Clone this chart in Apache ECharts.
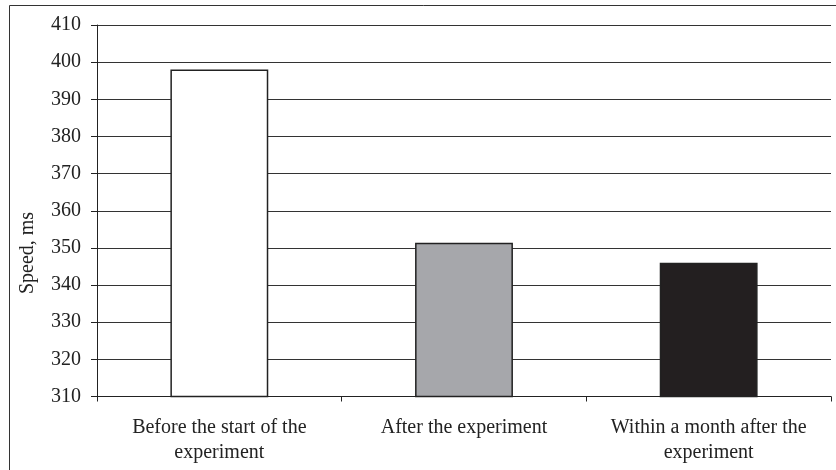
<!DOCTYPE html>
<html>
<head>
<meta charset="utf-8">
<script src="https://cdn.jsdelivr.net/npm/echarts@6/dist/echarts.min.js"></script>
<style>
html,body{margin:0;padding:0;background:#fff;}
#chart{width:836px;height:470px;}
</style>
</head>
<body>
<div id="chart"></div>
<script>
var categories = ["Before the start of the\nexperiment", "After the experiment", "Within a month after the\nexperiment"];
var speedValues = [398, 351.4, 346];
var barColors = ["#ffffff", "#a6a7ab", "#231f20"];
var yAxisName = "Speed, ms";

var chart = echarts.init(document.getElementById('chart'), null, {renderer: 'canvas'});
var font = '"Liberation Serif", "Times New Roman", serif';

chart.setOption({
  animation: false,
  backgroundColor: '#ffffff',
  grid: {left: 97, right: 5, top: 25, bottom: 73.5, containLabel: false},
  xAxis: {
    type: 'category',
    data: categories,
    boundaryGap: true,
    axisLine: {show: true, lineStyle: {color: '#222', width: 1}},
    axisTick: {show: true, length: 5, inside: false, lineStyle: {color: '#222'}},
    axisLabel: {
      interval: 0,
      margin: 19,
      color: '#222',
      fontFamily: font,
      fontSize: 20,
      lineHeight: 25,
      align: 'center'
    },
    splitLine: {show: false}
  },
  yAxis: {
    type: 'value',
    min: 310,
    max: 410,
    interval: 10,
    axisLine: {show: true, lineStyle: {color: '#222', width: 1}},
    axisTick: {show: true, length: 6, inside: false, lineStyle: {color: '#222'}},
    axisLabel: {
      margin: 16,
      color: '#222',
      fontFamily: font,
      fontSize: 20
    },
    splitLine: {show: true, lineStyle: {color: '#333', width: 1}}
  },
  series: [{
    type: 'bar',
    barWidth: '40%',
    data: speedValues.map(function (v, i) {
      return {
        value: v,
        itemStyle: {color: barColors[i], borderColor: '#222', borderWidth: 1.5}
      };
    })
  }],
  graphic: [
    {
      type: 'rect',
      shape: {x: 9.5, y: 5.5, width: 900, height: 600},
      style: {fill: null, stroke: '#333', lineWidth: 1},
      silent: true,
      z: 100
    },
    {
      type: 'text',
      x: 28,
      y: 253,
      rotation: Math.PI / 2,
      style: {
        text: yAxisName,
        font: '20px ' + font,
        fill: '#222',
        align: 'center',
        verticalAlign: 'middle'
      },
      z: 100
    }
  ]
});
</script>
</body>
</html>
